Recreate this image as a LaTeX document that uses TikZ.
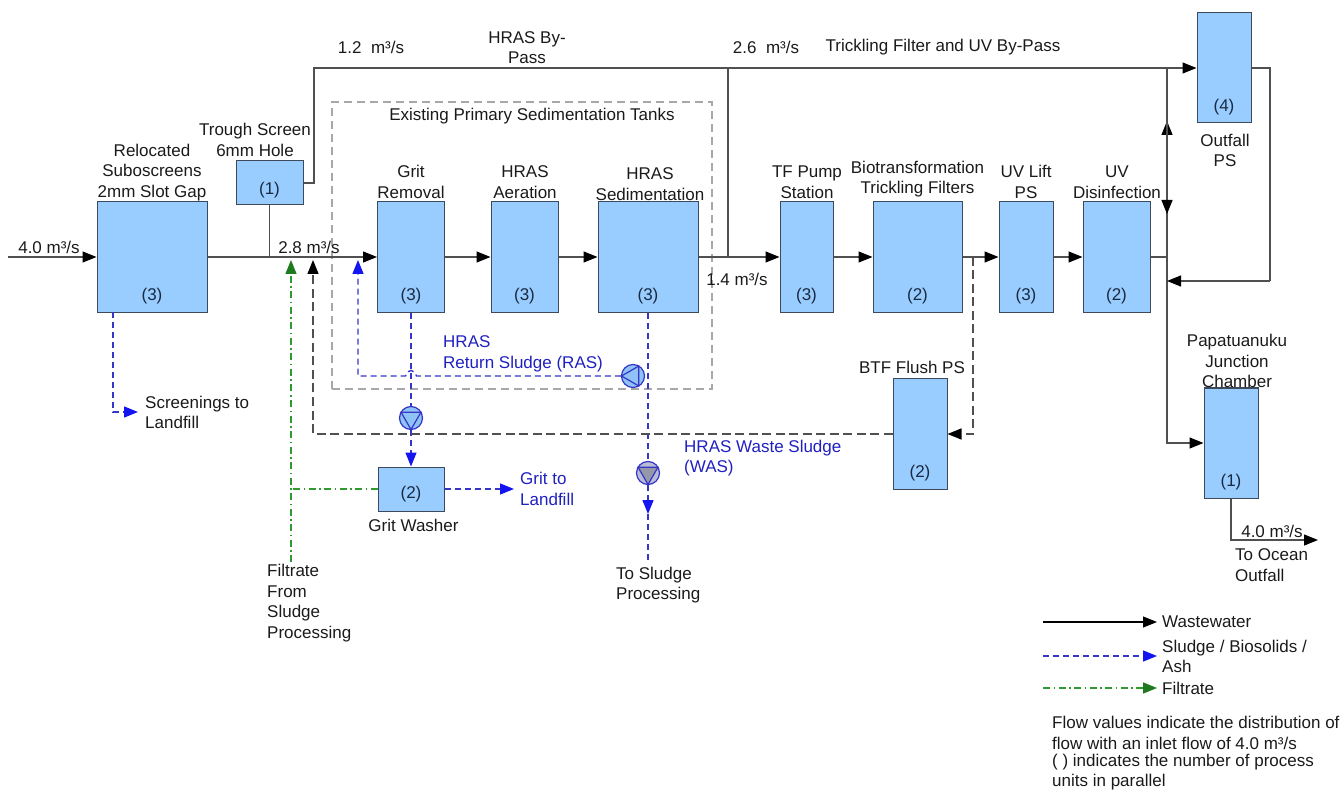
\documentclass[tikz,border=0pt]{standalone}
\usepackage{fontspec}
\setmainfont{Liberation Sans}
\usetikzlibrary{arrows.meta}
\definecolor{boxfill}{HTML}{99CCFF}
\definecolor{boxline}{HTML}{3C4A5C}
\definecolor{wwline}{HTML}{505050}
\definecolor{slblue}{HTML}{3535C8}
\definecolor{slhead}{HTML}{1414F0}
\definecolor{sltext}{HTML}{2020C0}
\definecolor{filtgreen}{HTML}{2F9A2F}
\definecolor{filthead}{HTML}{1E7A1E}
\definecolor{txt}{HTML}{1A1A1A}
\definecolor{cnttxt}{HTML}{1A2A40}
\definecolor{tankdash}{HTML}{A8A8A8}
\definecolor{pumpfill}{HTML}{8FC3F5}
\definecolor{pumpgray}{HTML}{B8BCD4}
\definecolor{pumptrigray}{HTML}{9498A8}
\tikzset{
  unit/.style={draw=boxline, fill=boxfill, line width=1pt, inner sep=0pt},
  cnt/.style={font=\fontsize{17}{20.5}\selectfont, text=cnttxt, inner sep=0pt},
  lbl/.style={font=\fontsize{17}{20.5}\selectfont, text=txt, inner sep=0pt, align=center},
  lbll/.style={lbl, align=left, anchor=west},
  bll/.style={lbl, align=left, anchor=west, text=sltext},
  tip/.style={-{Triangle[length=14pt,width=11pt,color=#1,fill=#1]}},
  ww/.style={draw=wwline, line width=1.2pt},
  wwarr/.style={ww, tip=black},
  sl/.style={draw=slblue, line width=1.4pt, dash pattern=on 6pt off 4pt},
  slarr/.style={sl, tip=slhead},
  btf/.style={draw=wwline, line width=1.3pt, dash pattern=on 9pt off 4.5pt},
  btfarr/.style={btf, tip=black},
  filt/.style={draw=filtgreen, line width=1.3pt, dash pattern=on 7pt off 3.5pt on 1.5pt off 3.5pt},
  filtarr/.style={filt, tip=filthead},
  tankbox/.style={draw=tankdash, line width=1.3pt, dash pattern=on 8pt off 5pt, inner sep=0pt},
  pump/.style={circle, draw=slblue, fill=pumpfill, line width=1.2pt, minimum size=23pt, inner sep=0pt},
  pumpg/.style={pump, fill=pumpgray},
  pumptri/.style={draw=slblue, line width=1.2pt},
}
\begin{document}
\begin{tikzpicture}[x=1pt,y=-1pt]
\useasboundingbox (0,0) rectangle (1341,791);

% dashed group box
\node[tankbox, minimum width=380pt, minimum height=287pt] (pst) at (522,245.5) {};
\node[lbl] (pstl) at (532,116) {Existing Primary Sedimentation Tanks};

% process units
\node[unit, minimum width=110pt, minimum height=111pt] (sub) at (152,257) {};
\node[unit, minimum width=67pt, minimum height=44pt] (trough) at (269.5,183) {};
\node[unit, minimum width=67pt, minimum height=111pt] (grit) at (411,257) {};
\node[unit, minimum width=67pt, minimum height=111pt] (aer) at (524.5,257) {};
\node[unit, minimum width=100pt, minimum height=111pt] (sed) at (648,257) {};
\node[unit, minimum width=53pt, minimum height=111pt] (tfp) at (806.5,257) {};
\node[unit, minimum width=89pt, minimum height=111pt] (btfu) at (917.5,257) {};
\node[unit, minimum width=54pt, minimum height=111pt] (uvl) at (1026,257) {};
\node[unit, minimum width=67pt, minimum height=111pt] (uvd) at (1116.5,257) {};
\node[unit, minimum width=54pt, minimum height=110pt] (opst) at (1224,68) {};
\node[unit, minimum width=54pt, minimum height=110pt] (pap) at (1231,443) {};
\node[unit, minimum width=54pt, minimum height=110pt] (flush) at (920,434) {};
\node[unit, minimum width=66pt, minimum height=44pt] (washer) at (411,489) {};

% unit counts
\node[cnt] (c1) at (152,296) {(3)};
\node[cnt] (c2) at (269.5,190) {(1)};
\node[cnt] (c3) at (411,296) {(3)};
\node[cnt] (c4) at (524.5,296) {(3)};
\node[cnt] (c5) at (648,296) {(3)};
\node[cnt] (c6) at (806.5,296) {(3)};
\node[cnt] (c7) at (917.5,296) {(2)};
\node[cnt] (c8) at (1026,296) {(3)};
\node[cnt] (c9) at (1116.5,296) {(2)};
\node[cnt] (c10) at (1224,107) {(4)};
\node[cnt] (c11) at (1231,482) {(1)};
\node[cnt] (c12) at (920,473) {(2)};
\node[cnt] (c13) at (411,494) {(2)};

% coordinates
\coordinate (in) at (8,257);
\coordinate (j1) at (269.5,257);
\coordinate (t1) at (314,183);
\coordinate (t2) at (314,68);
\coordinate (j2) at (728,68);
\coordinate (j3) at (728,257);
\coordinate (j4) at (1167,68);
\coordinate (j5) at (1167,257);
\coordinate (j6) at (1167,281);
\coordinate (j7) at (1167,443);
\coordinate (u1) at (1167,121);
\coordinate (d1) at (1167,214);
\coordinate (r1) at (1270,68);
\coordinate (r2) at (1270,281);
\coordinate (o1) at (1231,540);
\coordinate (o2) at (1318,540);

% wastewater
\draw[wwarr] (in) -- (sub.west);
\draw[wwarr] (sub.east) -- (grit.west);
\draw[ww] (trough.south) -- (j1);
\draw[ww] (trough.east) -- (t1) -- (t2) -- (j2);
\draw[wwarr] (j2) -- (opst.west);
\draw[ww] (j2) -- (j3);
\draw[wwarr] (grit.east) -- (aer.west);
\draw[wwarr] (aer.east) -- (sed.west);
\draw[wwarr] (sed.east) -- (tfp.west);
\draw[wwarr] (tfp.east) -- (btfu.west);
\draw[wwarr] (btfu.east) -- (uvl.west);
\draw[wwarr] (uvl.east) -- (uvd.west);
\draw[ww] (uvd.east) -- (j5);
\draw[wwarr] (j4) -- (j7) -- (pap.west);
\draw[wwarr] (j5) -- (u1);
\draw[wwarr] (j4) -- (d1);
\draw[ww] (opst.east) -- (r1) -- (r2);
\draw[wwarr] (r2) -- (j6);
\draw[wwarr] (pap.south) -- (o1) -- (o2);

% pumps
\node[pump] (gp) at (411,418) {};
\draw[pumptri] ([shift={(90:11.5)}]gp.center) -- ([shift={(210:11.5)}]gp.center) -- ([shift={(330:11.5)}]gp.center) -- cycle;
\node[pump] (rp) at (633,376) {};
\draw[pumptri] ([shift={(180:11.5)}]rp.center) -- ([shift={(60:11.5)}]rp.center) -- ([shift={(300:11.5)}]rp.center) -- cycle;
\node[pumpg] (wp) at (648,473) {};
\draw[pumptri, fill=pumptrigray] ([shift={(90:11.5)}]wp.center) -- ([shift={(210:11.5)}]wp.center) -- ([shift={(330:11.5)}]wp.center) -- cycle;

% sludge
\coordinate (scr1) at (113,312);
\coordinate (scr2) at (138,412);
\draw[slarr] (scr1) |- (scr2);
\draw[sl] (grit.south) -- (gp.north);
\draw[slarr] (gp.south) -- (washer.north);
\coordinate (gtl) at (514,489);
\draw[slarr] (washer.east) -- (gtl);
\coordinate (ras0) at (416.5,376);
\coordinate (ras1) at (358,376);
\coordinate (ras2) at (358,260);
\draw[slarr] (rp.west) -- (ras0) arc[start angle=0, end angle=180, radius=5.5pt] -- (ras1) -- (ras2);
\coordinate (wa1) at (648,514);
\coordinate (wa2) at (648,563);
\draw[sl] (sed.south) -- (wp.north);
\draw[slarr] (wp.south) -- (wa1);
\draw[sl] (wa1) -- (wa2);

% BTF flush
\coordinate (bt1) at (973,257);
\coordinate (bt2) at (973,434);
\coordinate (bt3) at (313,434);
\coordinate (bt4) at (313,260);
\draw[btfarr] (bt1) -- (bt2) -- (flush.east);
\draw[btfarr] (flush.west) -- (bt3) -- (bt4);

% filtrate
\coordinate (f1) at (291,562);
\coordinate (f2) at (291,260);
\coordinate (f3) at (291,489);
\draw[filtarr] (f1) -- (f2);
\draw[filt] (washer.west) -- (f3);

% labels
\node[lbl] (l1) at (49,247) {4.0 m³/s};
\node[lbl] (l2) at (309,247) {2.8 m³/s};
\node[lbl] (l3) at (371,47) {1.2\ \ m³/s};
\node[lbl] (l4) at (527,47.5) {HRAS By-\\Pass};
\node[lbl] (l5) at (766,47) {2.6\ \ m³/s};
\node[lbl] (l6) at (943,47) {Trickling Filter and UV By-Pass};
\node[lbl] (l7) at (152,172.5) {Relocated\\Suboscreens\\2mm Slot Gap};
\node[lbl] (l8) at (255,140) {Trough Screen\\6mm Hole};
\node[lbl] (l9) at (411,182) {Grit\\Removal};
\node[lbl] (l10) at (525,182) {HRAS\\Aeration};
\node[lbl] (l11) at (650,184) {HRAS\\Sedimentation};
\node[lbl] (l12) at (807,182) {TF Pump\\Station};
\node[lbl] (l13) at (917.5,179) {Biotransformation\\Trickling Filters};
\node[lbl] (l14) at (1026,182) {UV Lift\\PS};
\node[lbl] (l15) at (1117,182) {UV\\Disinfection};
\node[lbl] (l16) at (737,279) {1.4 m³/s};
\node[lbl] (l17) at (1225,150.5) {Outfall\\PS};
\node[lbl] (l18) at (1237,361) {Papatuanuku\\Junction\\Chamber};
\node[lbl] (l19) at (912,367) {BTF Flush PS};
\node[lbl] (l20) at (1272,531) {4.0 m³/s};
\node[lbll] (l21) at (1235,565) {To Ocean\\Outfall};
\node[lbll] (l22) at (145,412.5) {Screenings to\\Landfill};
\node[bll] (l23) at (520,489) {Grit to\\Landfill};
\node[lbl] (l24) at (413.5,525) {Grit Washer};
\node[lbll] (l25) at (267,603) {Filtrate\\From\\Sludge\\Processing};
\node[lbll] (l26) at (616,585) {To Sludge\\Processing};
\node[bll] (l27) at (443,354) {HRAS\\Return Sludge (RAS)};
\node[bll] (l28) at (684,458) {HRAS Waste Sludge\\(WAS)};

% legend
\coordinate (lg1) at (1043,622);
\coordinate (lg2) at (1157,622);
\coordinate (lg3) at (1043,656);
\coordinate (lg4) at (1157,656);
\coordinate (lg5) at (1043,688);
\coordinate (lg6) at (1157,688);
\draw[ww, draw=black, line width=1.1pt, tip=black] (lg1) -- (lg2);
\draw[slarr] (lg3) -- (lg4);
\draw[filtarr] (lg5) -- (lg6);
\node[lbll] (lt1) at (1162,622) {Wastewater};
\node[lbll] (lt2) at (1162,656.5) {Sludge / Biosolids /\\Ash};
\node[lbll] (lt3) at (1162,688) {Filtrate};
\node[lbll] (lt4) at (1052,733) {Flow values indicate the distribution of\\flow with an inlet flow of 4.0 m³/s};
\node[lbll] (lt5) at (1052,772) {( ) indicates the number of process\\units in parallel};
\end{tikzpicture}
\end{document}
